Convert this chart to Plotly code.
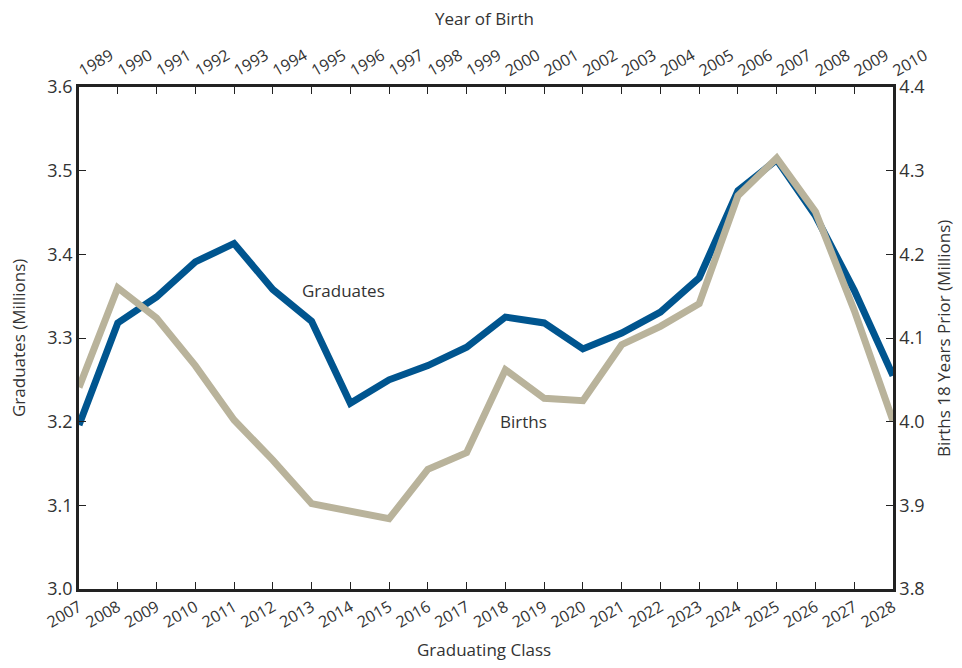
import plotly.graph_objects as go

grad_class = list(range(2007, 2029))
birth_year = [str(y) for y in range(1989, 2011)]
graduates = [3.196, 3.318, 3.349, 3.391, 3.413, 3.358, 3.320, 3.222, 3.250, 3.267, 3.289,
             3.325, 3.318, 3.287, 3.306, 3.331, 3.372, 3.476, 3.513, 3.446, 3.357, 3.255]
births = [4.041, 4.160, 4.124, 4.067, 4.002, 3.954, 3.902, 3.893, 3.884, 3.943, 3.963,
          4.062, 4.028, 4.025, 4.092, 4.114, 4.141, 4.270, 4.315, 4.251, 4.133, 4.001]

FONT = "Open Sans"
TXT = "#333333"
AX = "#222222"

# page has 8px body margin: figure sits at (8, 8); keep it inside the 962x668 window
W, H = 946, 652
ML, MR, MT, MB = 71, 61, 79, 71
PL, PR, PT, PB = 8 + ML, 8 + W - MR, 8 + MT, 8 + H - MB  # plot area in page pixels

fig = go.Figure()
fig.add_trace(go.Scatter(x=grad_class, y=graduates, mode="lines", name="Graduates",
                         line=dict(color="#00558f", width=7), xaxis="x", yaxis="y"))
fig.add_trace(go.Scatter(x=grad_class, y=births, mode="lines", name="Births",
                         line=dict(color="#b9b39b", width=7), xaxis="x", yaxis="y2"))
fig.add_trace(go.Scatter(x=[grad_class[0]], y=[graduates[0]], xaxis="x2", yaxis="y",
                         mode="markers", marker=dict(opacity=0), hoverinfo="skip"))

axis_common = dict(showline=True, linecolor=AX, linewidth=2.5, ticks="inside", ticklen=7,
                   tickcolor=AX, tickwidth=1.2, showgrid=False, zeroline=False, automargin=False)

fig.update_layout(
    width=W, height=H,
    margin=dict(l=ML, r=MR, t=MT, b=MB),
    paper_bgcolor="white", plot_bgcolor="white",
    showlegend=False,
    font=dict(family=FONT, color=TXT, size=15),
    xaxis=dict(range=[2007, 2028], tickvals=grad_class, ticktext=[str(v) for v in grad_class],
               tickangle=-30, tickfont=dict(size=16), **axis_common),
    xaxis2=dict(range=[2007, 2028], overlaying="x", side="top", tickvals=grad_class,
                ticktext=birth_year, tickangle=-30, tickfont=dict(size=16), **axis_common),
    yaxis=dict(range=[3.0, 3.6], tickvals=[3.0, 3.1, 3.2, 3.3, 3.4, 3.5, 3.6], tickformat=".1f",
               tickfont=dict(size=18), **axis_common),
    yaxis2=dict(range=[3.8, 4.4], overlaying="y", side="right", tickvals=[3.8, 3.9, 4.0, 4.1, 4.2, 4.3, 4.4],
                tickformat=".1f", tickfont=dict(size=18), **axis_common),
)

titles = [
    (484, 19, "Year of Birth", 0),
    (484, 649, "Graduating Class", 0),
    (18, 338, "Graduates (Millions)", -90),
    (943, 338, "Births 18 Years Prior (Millions)", -90),
]
for px, py, text, ang in titles:
    fig.add_annotation(x=(px - PL) / (PR - PL), y=(PB - py) / (PB - PT), xref="paper", yref="paper",
                       xanchor="center", yanchor="middle", text=text, textangle=ang,
                       showarrow=False, font=dict(size=17, color=TXT))

fig.add_annotation(x=2012.7, y=3.357, xref="x", yref="y", text="Graduates", showarrow=False,
                   xanchor="left", font=dict(size=17, color=TXT))
fig.add_annotation(x=2017.8, y=3.2, xref="x", yref="y", text="Births", showarrow=False,
                   xanchor="left", font=dict(size=17, color=TXT))

fig.write_html("out.html")
